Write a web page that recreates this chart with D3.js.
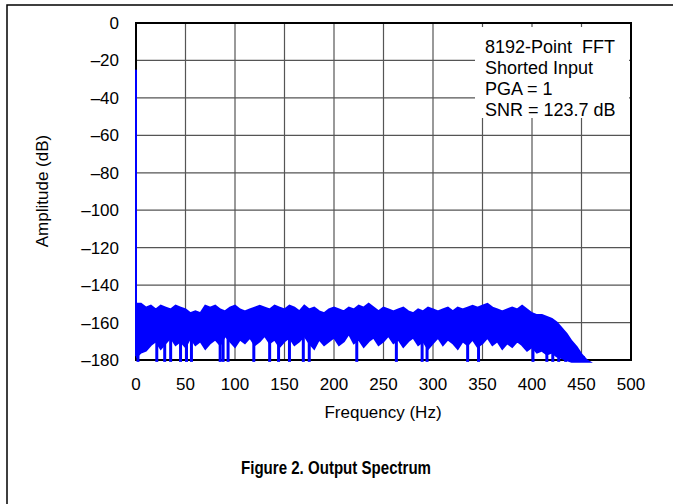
<!DOCTYPE html>
<html>
<head>
<meta charset="utf-8">
<script src="https://cdn.jsdelivr.net/npm/d3@7"></script>
<style>
  body { margin: 0; background: #fff; }
  text { font-family: "Liberation Sans", Arial, sans-serif; fill: #000; white-space: pre; }
</style>
</head>
<body>
<script>
// ---- chart data ----
var xTicks = [0, 50, 100, 150, 200, 250, 300, 350, 400, 450, 500];
var yTicks = [0, -20, -40, -60, -80, -100, -120, -140, -160, -180];
var notes = ["8192-Point  FFT", "Shorted Input", "PGA = 1", "SNR = 123.7 dB"];

// DC bin
var dcDb = -25;

// noise band: frequency, top edge and bottom edge of the solid band (dB)
var noiseFreq = [1, 5, 10, 15, 20, 25, 30, 35, 40, 45, 50, 55, 60, 65, 70, 75, 80, 85, 90, 95,
  100, 105, 110, 115, 120, 125, 130, 135, 140, 145, 150, 155, 160, 165, 170, 175, 180, 185, 190, 195,
  200, 205, 210, 215, 220, 225, 230, 235, 240, 245, 250, 255, 260, 265, 270, 275, 280, 285, 290, 295,
  300, 305, 310, 315, 320, 325, 330, 335, 340, 345, 350, 355, 360, 365, 370, 375, 380, 385, 390, 395,
  400, 405, 410, 415, 420, 425, 430, 435, 440, 445, 450, 455, 458];
var noiseTop = [-150, -150, -152, -151, -153, -151, -152, -153, -151, -152, -153, -155, -154, -155, -151, -152, -151, -153, -154, -152,
  -151, -153, -154, -153, -152, -151, -152, -153, -151, -152, -153, -151, -152, -154, -151, -153, -152, -154, -155, -153,
  -152, -153, -154, -152, -153, -151, -152, -150, -152, -154, -152, -153, -154, -153, -152, -154, -155, -153, -154, -152,
  -153, -154, -153, -152, -154, -152, -153, -152, -151, -152, -151, -150, -152, -153, -154, -153, -152, -153, -151, -153,
  -155, -156, -156, -157, -158, -160, -163, -166, -170, -173, -177, -180, -181];
var noiseBottom = [-178, -176, -175, -172, -170, -174, -171, -168, -172, -170, -173, -168, -172, -170, -174, -171, -169, -172, -167, -170,
  -173, -169, -171, -168, -172, -170, -167, -171, -169, -173, -170, -168, -172, -170, -167, -171, -174, -169, -172, -170,
  -168, -172, -170, -166, -171, -169, -173, -170, -168, -172, -170, -167, -171, -169, -173, -170, -168, -172, -170, -174,
  -171, -168, -172, -169, -171, -174, -170, -172, -169, -173, -171, -168, -172, -170, -174, -171, -173, -170, -172, -175,
  -173, -176, -175, -177, -176, -178, -179, -180, -181, -181, -181, -181, -181];

// deep notches: frequency, where the notch leaves the band, and its depth (dB)
var dipFreq = [2, 21, 29, 35, 45, 51, 56, 85, 88, 93, 119, 135, 144, 155, 169, 175, 223, 263, 289, 294,
  335, 346, 401, 415, 421, 427, 434, 440, 446, 452];
var dipFrom = [-168, -166, -167, -166, -168, -166, -167, -166, -167, -165, -167, -166, -168, -166, -165, -167, -166, -167, -166, -168,
  -166, -167, -168, -168, -169, -170, -171, -173, -175, -178];
var dipDb = [-181, -181, -181, -181, -181, -181, -181, -181, -181, -181, -181, -181, -181, -181, -181, -181, -181, -181, -181, -181,
  -181, -181, -181, -181, -181, -181, -181, -181, -181, -181];

var svg = d3.select("body").append("svg")
    .attr("width", 673)
    .attr("height", 504);

//outer page frame
svg.append("path")
    .attr("d", "M7,504 V5 H673")
    .attr("fill", "none")
    .attr("stroke", "#000")
    .attr("stroke-width", 1.5);

var x = d3.scaleLinear().domain([0, 500]).range([136, 631]);
var y = d3.scaleLinear().domain([-180, 0]).range([360, 23]);

//grid
var g = svg.append("g");
g.selectAll(".vgrid").data(xTicks.slice(1, -1)).enter().append("line")
    .attr("x1", function(d) { return x(d); })
    .attr("x2", function(d) { return x(d); })
    .attr("y1", y(0)).attr("y2", y(-180))
    .attr("stroke", "#555").attr("stroke-width", 1.2);
g.selectAll(".hgrid").data(yTicks.slice(1, -1)).enter().append("line")
    .attr("y1", function(d) { return y(d); })
    .attr("y2", function(d) { return y(d); })
    .attr("x1", x(0)).attr("x2", x(500))
    .attr("stroke", "#555").attr("stroke-width", 1.2);

//white box behind the notes
g.append("rect")
    .attr("x", 475).attr("y", 27)
    .attr("width", 154).attr("height", 91)
    .attr("fill", "#fff");

g.selectAll(".note").data(notes).enter().append("text")
    .attr("x", 485)
    .attr("y", function(d, i) { return 53 + i * 21; })
    .attr("font-size", 18)
    .text(function(d) { return d; });

//plot frame
g.append("rect")
    .attr("x", x(0)).attr("y", y(0))
    .attr("width", x(500) - x(0)).attr("height", y(-180) - y(0))
    .attr("fill", "none")
    .attr("stroke", "#000").attr("stroke-width", 2);

//tick labels
g.selectAll(".xl").data(xTicks).enter().append("text")
    .attr("x", function(d) { return x(d); })
    .attr("y", 390)
    .attr("text-anchor", "middle")
    .attr("font-size", 17)
    .text(function(d) { return d; });
g.selectAll(".yl").data(yTicks).enter().append("text")
    .attr("x", 119)
    .attr("y", function(d) { return y(d) + 6; })
    .attr("text-anchor", "end")
    .attr("font-size", 17)
    .text(function(d) { return d === 0 ? "0" : "\u2013" + Math.abs(d); });

//axis titles
svg.append("text")
    .attr("x", 383).attr("y", 418)
    .attr("text-anchor", "middle")
    .attr("font-size", 17)
    .text("Frequency (Hz)");
svg.append("text")
    .attr("transform", "translate(48,191) rotate(-90)")
    .attr("text-anchor", "middle")
    .attr("font-size", 17)
    .text("Amplitude (dB)");

svg.append("text")
    .attr("x", 336).attr("y", 474)
    .attr("text-anchor", "middle")
    .attr("font-size", 18)
    .attr("font-weight", "bold")
    .attr("textLength", 190)
    .attr("lengthAdjust", "spacingAndGlyphs")
    .text("Figure 2. Output Spectrum");

//spectrum
var band = noiseFreq.map(function(f, i) { return {f: f, top: noiseTop[i], bot: noiseBottom[i]}; });
var area = d3.area()
    .x(function(d) { return x(d.f); })
    .y0(function(d) { return y(d.bot); })
    .y1(function(d) { return y(d.top); });
var data = svg.append("g");
data.append("path")
    .datum(band)
    .attr("d", area)
    .attr("fill", "#0000ff")
    .attr("stroke", "#0000ff")
    .attr("stroke-width", 2)
    .attr("stroke-linejoin", "miter");

data.selectAll(".dip").data(dipFreq).enter().append("line")
    .attr("x1", function(d) { return x(d); })
    .attr("x2", function(d) { return x(d); })
    .attr("y1", function(d, i) { return y(dipFrom[i]); })
    .attr("y2", function(d, i) { return y(dipDb[i]); })
    .attr("stroke", "#0000ff").attr("stroke-width", 3);

//DC bin
data.append("line")
    .attr("x1", x(0)).attr("x2", x(0))
    .attr("y1", y(dcDb)).attr("y2", y(-178))
    .attr("stroke", "#0000ff").attr("stroke-width", 2);
</script>
</body>
</html>
